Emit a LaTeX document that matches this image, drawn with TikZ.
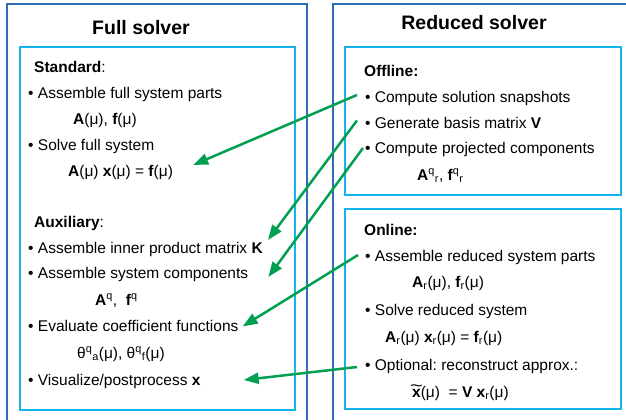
\documentclass[tikz,border=0pt]{standalone}
\usepackage{fontspec}
\setmainfont{Liberation Sans}
\usepackage{graphicx}
\usepackage{tikz}
\usetikzlibrary{arrows.meta,positioning}
\definecolor{solverblue}{HTML}{2E6DB8}
\definecolor{panelcyan}{HTML}{12B4EA}
\definecolor{linkgreen}{HTML}{00A050}
\newcommand{\sups}[1]{\textsuperscript{#1}}
\newcommand{\subs}[1]{\textsubscript{#1}}
\newcommand{\tildex}{{\setbox0\hbox{\textbf{x}}\rlap{\makebox[\wd0]{\raisebox{5.5pt}{\scalebox{1.4}[1.1]{\char"007E}}}}\box0}}
\frenchspacing

\begin{document}
\begin{tikzpicture}[x=1pt, y=-1pt,
  outer/.style={draw=solverblue, line width=2.4pt},
  panel/.style={draw=panelcyan, line width=2.6pt},
  title/.style={anchor=base, inner sep=0pt, font=\fontsize{19.5}{22}\selectfont\bfseries},
  head/.style={anchor=base west, inner sep=0pt, font=\fontsize{15.5}{18}\selectfont\bfseries},
  item/.style={anchor=base west, inner sep=0pt, font=\fontsize{15.5}{18}\selectfont},
  link/.style={-{Triangle[length=15pt,width=11pt]}, draw=linkgreen, line width=2.5pt},
]
\useasboundingbox (0,0) rectangle (626,420);
\clip (0,0) rectangle (626,420);

% ── Full solver ──
\draw[outer] (7,430) -- (7,4) -- (307,4) -- (307,430);
\draw[panel] (20,47) rectangle (295,410);
\node[title] (fulltitle) at (141,35) {Full solver};

\node[head] (std) at (34,73) {Standard\mdseries:};
\node[item] (asmfull) at (28,98) {• Assemble full system parts};
\node[item] (afull) at (73,124) {\textbf{A}(μ), \textbf{f}(μ)};
\node[item] (solvefull) at (28,150) {• Solve full system};
\node[item] (eqfull) at (68,176) {\textbf{A}(μ) \textbf{x}(μ) = \textbf{f}(μ)};

\node[head] (aux) at (34,227) {Auxiliary\mdseries:};
\node[item] (innerK) at (28,253) {• Assemble inner product matrix \textbf{K}};
\node[item] (asmcomp) at (28,278) {• Assemble system components};
\node[item] (comps) at (95,305) {\textbf{A}\sups{q},\ \ \textbf{f}\sups{q}};
\node[item] (evalcoef) at (28,331) {• Evaluate coefficient functions};
\node[item] (thetas) at (77,358) {θ\sups{q}\subs{a}(μ), θ\sups{q}\subs{f}(μ)};
\node[item] (visual) at (28,385) {• Visualize/postprocess \textbf{x}};

% ── Reduced solver ──
\draw[outer] (333,430) -- (333,4) -- (640,4);
\draw[panel] (345,47) rectangle (621,195);
\draw[panel] (345,209) rectangle (621,409);
\node[title] (redtitle) at (474,30) {Reduced solver};

\node[head] (offline) at (364,76) {Offline:};
\node[item] (snap) at (365,102) {• Compute solution snapshots};
\node[item] (basis) at (365,128) {• Generate basis matrix \textbf{V}};
\node[item] (proj) at (365,153) {• Compute projected components};
\node[item] (projcomps) at (417,180) {\textbf{A}\sups{q}\subs{r}, \textbf{f}\sups{q}\subs{r}};

\node[head] (online) at (364,235) {Online:};
\node[item] (asmred) at (365,261) {• Assemble reduced system parts};
\node[item] (ared) at (412,287) {\textbf{A}\subs{r}(μ), \textbf{f}\subs{r}(μ)};
\node[item] (solvered) at (365,315) {• Solve reduced system};
\node[item] (eqred) at (385,342) {\textbf{A}\subs{r}(μ) \textbf{x}\subs{r}(μ) = \textbf{f}\subs{r}(μ)};
\node[item] (optional) at (365,370) {• Optional: reconstruct approx.:};
\node[item] (recon) at (412,397) {\tildex(μ)\ \ = \textbf{V} \textbf{x}\subs{r}(μ)};

% links from reduced to full solver
\draw[link] ([xshift=-8pt,yshift=3pt]snap.west) -- ([xshift=20pt,yshift=7pt]eqfull.east);
\draw[link] ([xshift=-8pt,yshift=2pt]basis.west) -- ([xshift=5pt,yshift=9pt]innerK.east);
\draw[link] ([xshift=-2pt,yshift=1pt]proj.west) -- ([xshift=20pt,yshift=-3pt]asmcomp.east);
\draw[link] ([xshift=-7pt,yshift=2pt]asmred.west) -- ([xshift=4pt,yshift=-1pt]evalcoef.east);
\draw[link] ([xshift=-8pt,yshift=-1pt]optional.west) -- ([xshift=43pt,yshift=1pt]visual.east);

\end{tikzpicture}
\end{document}
